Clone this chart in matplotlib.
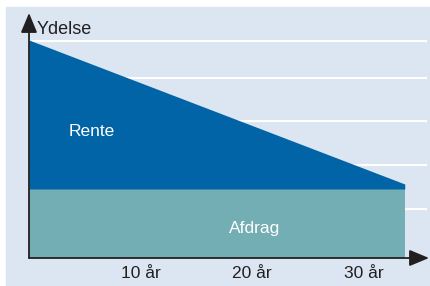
import matplotlib.pyplot as plt
from matplotlib.patches import Rectangle

# Data (years on x, arbitrary payment units on y)
years = [0, 33.7]
afdrag = [69, 69]          # constant repayment
total = [218, 74]          # repayment + interest, falling linearly
grid_levels = [49, 93, 137, 180, 217]
tick_years = [10, 20, 30]
tick_labels = ['10 år', '20 år', '30 år']

bg = '#dce6f2'
rente_col = '#0064a6'
afdrag_col = '#72aeb4'
ink = '#231f20'

plt.rcParams['font.family'] = ['Liberation Sans', 'DejaVu Sans']

W, H = 430, 286
fig = plt.figure(figsize=(W / 100, H / 100), dpi=100)
fig.patches.append(Rectangle((6 / W, 0), 1 - 6 / W, 1 - 7 / H,
                             transform=fig.transFigure, color=bg, zorder=-10))

# axes box: x from px 29 to 429, y from px 258 (axis) up to 13
ax = fig.add_axes([29 / W, (H - 258) / H, 400 / W, 245 / H])
ax.set_zorder(1)
ax.set_facecolor('none')
ax.set_xlim(0, 400 / 11.15)
ax.set_ylim(0, 245)
for s in ax.spines.values():
    s.set_visible(False)

for g in grid_levels:
    ax.axhline(g, xmin=0, xmax=(426 - 29) / 400, color='white', lw=1.5, zorder=1)

ax.fill_between(years, 0, afdrag, color=afdrag_col, lw=0, zorder=2)
ax.fill_between(years, afdrag, total, color=rente_col, lw=0, zorder=2)

ax.set_xticks(tick_years)
ax.set_xticklabels(tick_labels, fontsize=12.5, color=ink)
ax.tick_params(axis='x', length=0, pad=6)
ax.set_yticks([])

# axis arrows
arrow = dict(arrowstyle='-|>,head_length=12,head_width=5', color=ink, lw=1.3,
             shrinkA=0, shrinkB=0, mutation_scale=1)
ax.annotate('', xy=(1, 0), xytext=(0, 0), xycoords='axes fraction',
            arrowprops=arrow, zorder=5, annotation_clip=False)
ax.annotate('', xy=(0, 1), xytext=(0, 0), xycoords='axes fraction',
            arrowprops=arrow, zorder=5, annotation_clip=False)

fig.text(37 / W, 1 - 30 / H, 'Ydelse', fontsize=13, color=ink, va='center', ha='left')
ax.text(5.6, 127, 'Rente', fontsize=12.5, color='white', ha='center', va='center', zorder=3)
ax.text(20.2, 29, 'Afdrag', fontsize=12.5, color='white', ha='center', va='center', zorder=3)

fig.savefig('out.png', dpi=100)
